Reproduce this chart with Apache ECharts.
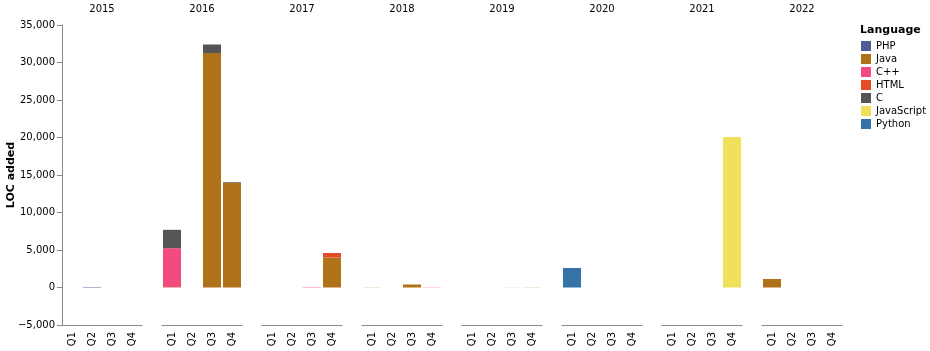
<!DOCTYPE html>
<html>
<head>
<meta charset="utf-8">
<script src="https://cdn.jsdelivr.net/npm/echarts@6/dist/echarts.min.js"></script>
<style>
  html, body { margin: 0; padding: 0; background: #fff; }
  #chart { width: 930px; height: 351px; }
</style>
</head>
<body>
<div id="chart"></div>
<script>
// facets and quarters
const years = ["2015", "2016", "2017", "2018", "2019", "2020", "2021", "2022"];
const quarters = ["Q1", "Q2", "Q3", "Q4"];
const languages = ["PHP", "Java", "C++", "HTML", "C", "JavaScript", "Python"];
const langColors = ["#4F5D95", "#b07219", "#f34b7d", "#e34c26", "#555555", "#f1e05a", "#3572A5"];

// LOC added per language, 4 quarters for each year (2015 .. 2022)
const phpLoc =        [0, 60, 0, 0,   0, 0, 0, 0,          0, 0, 0, 0,       0, 0, 0, 0,     0, 0, 0, 0,   0, 0, 0, 0,     0, 0, 0, 0,     0, 0, 0, 0];
const javaLoc =       [0, 0, 0, 0,    40, 0, 31270, 13930, 0, 0, 0, 4000,    20, 0, 400, 0,  0, 0, 10, 20, 0, 0, 0, 0,     0, 0, 0, 0,     1130, 0, 0, 0];
const cppLoc =        [0, 0, 0, 0,    5200, 0, 0, 0,       0, 0, 50, 0,      0, 0, 0, 30,    0, 0, 0, 0,   0, 0, 0, 0,     0, 0, 0, 0,     0, 0, 0, 0];
const htmlLoc =       [0, 0, 0, 0,    0, 0, 0, 0,          0, 0, 0, 600,     0, 0, 0, 0,     0, 0, 0, 0,   0, 0, 0, 0,     0, 0, 0, 0,     0, 0, 0, 0];
const cLoc =          [0, 0, 0, 0,    2450, 0, 1130, 100,  0, 0, 0, 0,       0, 0, 0, 0,     0, 0, 0, 0,   0, 0, 0, 0,     0, 0, 0, 0,     0, 0, 0, 0];
const javascriptLoc = [0, 0, 0, 0,    0, 0, 0, 0,          0, 0, 0, 0,       0, 0, 0, 0,     0, 0, 0, 0,   0, 0, 0, 0,     0, 0, 0, 20070, 0, 0, 0, 0];
const pythonLoc =     [0, 0, 0, 0,    0, 0, 0, 0,          0, 0, 0, 0,       0, 0, 0, 0,     0, 0, 0, 0,   2600, 0, 0, 0,  0, 0, 0, 0,     0, 0, 0, 0];
const locByLanguage = [phpLoc, javaLoc, cppLoc, htmlLoc, cLoc, javascriptLoc, pythonLoc];

const yTicks = [-5000, 0, 5000, 10000, 15000, 20000, 25000, 30000, 35000];

const FONT = "DejaVu Sans, sans-serif";
const AXIS_COLOR = "#888";
const PANEL_LEFT = 62;
const PANEL_WIDTH = 80;
const PANEL_STEP = 100;
const PANEL_TOP = 25;
const PANEL_HEIGHT = 300;

function fmtTick(v) {
  const s = Math.abs(v).toLocaleString("en-US");
  return v < 0 ? "\u2212" + s : s;
}

const grid = [];
const xAxis = [];
const yAxis = [];
const series = [];
const graphic = [];

years.forEach((year, i) => {
  const left = PANEL_LEFT + PANEL_STEP * i;
  grid.push({ left: left, top: PANEL_TOP, width: PANEL_WIDTH, height: PANEL_HEIGHT, containLabel: false });
  xAxis.push({
    type: "category",
    gridIndex: i,
    data: quarters,
    position: "bottom",
    axisLine: { onZero: false, lineStyle: { color: AXIS_COLOR, width: 1 } },
    axisTick: { alignWithLabel: true, length: 5, lineStyle: { color: AXIS_COLOR } },
    axisLabel: { rotate: 90, fontSize: 10, fontFamily: FONT, color: "#000", margin: 7 },
    splitLine: { show: false },
  });
  yAxis.push({
    type: "value",
    gridIndex: i,
    min: yTicks[0],
    max: yTicks[yTicks.length - 1],
    interval: 5000,
    show: i === 0,
    axisLine: { show: true, lineStyle: { color: AXIS_COLOR } },
    axisTick: { show: true, length: 5, lineStyle: { color: AXIS_COLOR } },
    axisLabel: { fontSize: 10, fontFamily: FONT, color: "#000", margin: 7, formatter: fmtTick },
    splitLine: { show: false },
  });
  languages.forEach((lang, k) => {
    series.push({
      name: lang,
      type: "bar",
      xAxisIndex: i,
      yAxisIndex: i,
      stack: "year" + year,
      barCategoryGap: "10%",
      itemStyle: { color: langColors[k] },
      emphasis: { disabled: true },
      data: locByLanguage[k].slice(i * 4, i * 4 + 4),
    });
  });
  // facet header
  graphic.push({
    type: "text",
    x: left + PANEL_WIDTH / 2,
    y: 9,
    style: { text: year, fontSize: 10, fontFamily: FONT, fill: "#000", align: "center", verticalAlign: "middle" },
  });
});

// y axis title
graphic.push({
  type: "text",
  x: 11,
  y: 175,
  rotation: Math.PI / 2,
  style: { text: "LOC added", fontSize: 11, fontWeight: "bold", fontFamily: FONT, fill: "#000", align: "center", verticalAlign: "middle" },
});
// legend title
graphic.push({
  type: "text",
  x: 860,
  y: 30,
  style: { text: "Language", fontSize: 11, fontWeight: "bold", fontFamily: FONT, fill: "#000", verticalAlign: "middle" },
});

const chart = echarts.init(document.getElementById("chart"));
chart.setOption({
  animation: false,
  grid: grid,
  xAxis: xAxis,
  yAxis: yAxis,
  legend: {
    data: languages,
    orient: "vertical",
    left: 861,
    top: 41,
    icon: "rect",
    itemWidth: 10,
    itemHeight: 10,
    itemGap: 3,
    padding: 0,
    selectedMode: false,
    textStyle: { fontSize: 10, fontFamily: FONT, color: "#000", padding: [0, 0, 0, 0] },
  },
  graphic: graphic,
  series: series,
});
</script>
</body>
</html>
